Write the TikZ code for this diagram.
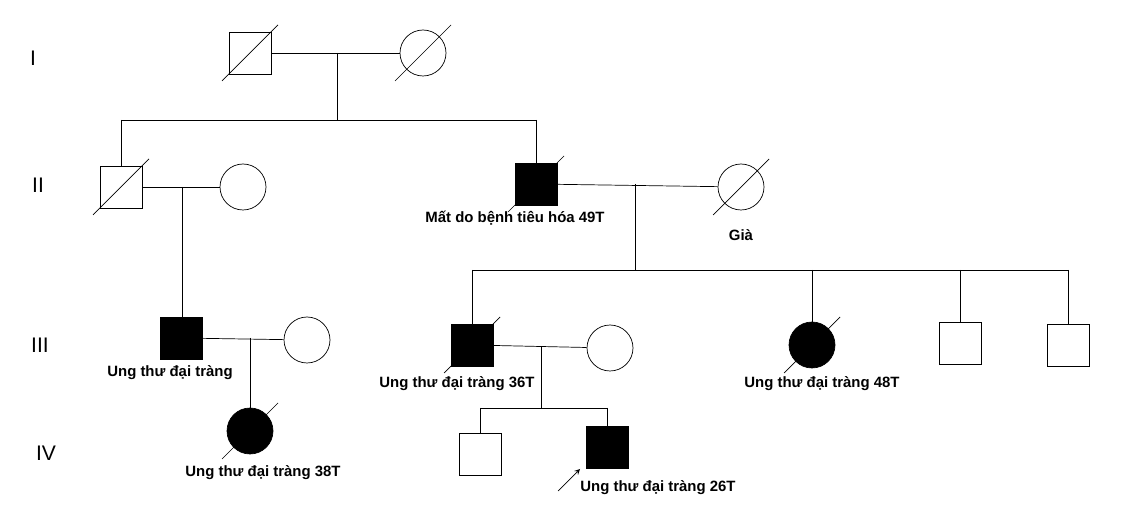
\documentclass[tikz,border=0pt]{standalone}
\usepackage{fontspec}
\setmainfont{Liberation Sans}
\usepackage{tikz}

\tikzset{
  male/.style={draw, minimum size=0.84cm, inner sep=0pt},
  female/.style={draw, circle, minimum size=0.92cm, inner sep=0pt},
  ill/.style={fill=black},
  dead/.style={path picture={}},
  lbl/.style={font=\bfseries\fontsize{8.5}{10}\selectfont},
  gen/.style={font=\fontsize{12}{14}\selectfont}
}
\newcommand{\deceased}[1]{\draw (#1) ++(-28,28) -- ++(56,-56);}

\begin{document}
\begin{tikzpicture}[x=0.02cm, y=-0.02cm]
  \useasboundingbox (0,0) rectangle (1146,526);
  % generations
  \node[gen] (gI) at (33,58) {I};
  \node[gen] (gII) at (38,185) {II};
  \node[gen] (gIII) at (40,345) {III};
  \node[gen] (gIV) at (46,453) {IV};

  % generation I
  \node[male] (a1) at (250,53) {};
  \node[female] (a2) at (423,53) {};
  \deceased{a1}
  \deceased{a2}
  \draw (a1) -- (a2);
  \coordinate (m1) at (337,53);
  \coordinate (s1) at (337,120);
  \draw (m1) -- (s1);

  % generation II
  \node[male] (b1) at (121,187) {};
  \node[female] (b2) at (243,187) {};
  \node[male, ill] (b3) at (536,184) {};
  \node[female] (b4) at (741,187) {};
  \deceased{b1}
  \deceased{b3}
  \deceased{b4}
  \node[lbl] (tb3) at (515,218) {Mất do bệnh tiêu hóa 49T};
  \node[lbl] (tb4) at (741,235) {Già};
  \draw (b1 |- s1) -- (b3 |- s1);
  \draw (b1 |- s1) -- (b1.north);
  \draw (b3 |- s1) -- (b3.north);
  \draw (b1) -- (b2);
  \draw (b3) -- (b4);
  \coordinate (m2) at (182,187);
  \coordinate (m3) at (635,184);
  \coordinate (s3) at (635,270);
  \draw (m3) -- (s3);

  % generation III
  \node[male, ill] (c1) at (181,338) {};
  \node[female] (c2) at (307,340) {};
  \node[male, ill] (c3) at (472,345) {};
  \node[female] (c4) at (610,348) {};
  \node[female, ill] (c5) at (812,345) {};
  \node[male] (c6) at (960,343) {};
  \node[male] (c7) at (1068,345) {};
  \deceased{c3}
  \deceased{c5}
  \node[lbl] (tc1) at (170,373) {Ung thư đại tràng};
  \node[lbl] (tc3) at (457,384) {Ung thư đại tràng 36T};
  \node[lbl] (tc5) at (822,384) {Ung thư đại tràng 48T};
  \draw (m2) -- (c1.north -| m2);
  \draw (c1) -- (c2);
  \draw (c3) -- (c4);
  \draw (c3 |- s3) -- (c7 |- s3);
  \foreach \k in {c3,c5,c6,c7} \draw (\k |- s3) -- (\k.north);

  % generation IV
  \coordinate (m4) at (250,338);
  \coordinate (m5) at (541,347);
  \coordinate (s5) at (541,408);
  \node[female, ill] (d1) at (250,431) {};
  \node[male] (d2) at (480,454) {};
  \node[male, ill] (d3) at (607,447) {};
  \deceased{d1}
  \node[lbl] (td1) at (263,473) {Ung thư đại tràng 38T};
  \node[lbl] (td3) at (658,488) {Ung thư đại tràng 26T};
  \draw (m4) -- (d1.north);
  \draw (m5) -- (s5);
  \draw (d2 |- s5) -- (d3 |- s5);
  \draw (d2 |- s5) -- (d2.north);
  \draw (d3 |- s5) -- (d3.north);
  \coordinate (p) at (558,491);
  \draw[->, >=stealth] (p) -- ++(22,-22);
\end{tikzpicture}
\end{document}
